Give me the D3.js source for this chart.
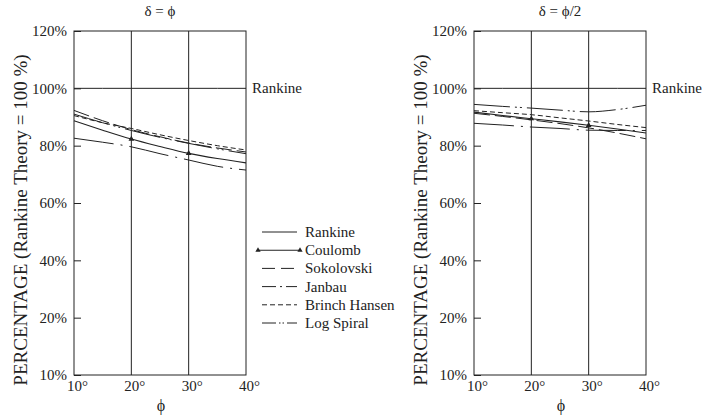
<!DOCTYPE html>
<html>
<head>
<meta charset="utf-8">
<script src="https://cdn.jsdelivr.net/npm/d3@7"></script>
<style>
  body { margin: 0; background: #fff; }
  svg text { font-family: "Liberation Serif", "Times New Roman", serif; fill: #222; }
</style>
</head>
<body>
<div id="chart"></div>
<script>
// data
const phiValues = [10, 15, 20, 25, 30, 35, 40];
const phiTicks = [10, 20, 30, 40];
const yTicks = [0, 20, 40, 60, 80, 100, 120];
const yTickLabels = ['10%', '20%', '40%', '60%', '80%', '100%', '120%'];
const seriesNames = ['Rankine', 'Coulomb', 'Sokolovski', 'Janbau', 'Brinch Hansen', 'Log Spiral'];
const coulombMarkPhi = [20, 30];

// delta = phi
const leftRankine = [100, 100, 100, 100, 100, 100, 100];
const leftCoulomb = [88.7, 85.4, 82.3, 79.7, 77.3, 75.5, 74.0];
const leftSokolovski = [92.3, 88.7, 85.6, 83.1, 80.9, 79.2, 77.8];
const leftJanbau = [82.6, 81.2, 79.6, 77.2, 75.0, 72.8, 71.5];
const leftBrinchHansen = [90.5, 88.0, 86.0, 83.8, 81.8, 80.0, 78.5];
const leftLogSpiral = [91.0, 88.0, 85.3, 82.9, 80.8, 78.9, 77.2];

// delta = phi/2
const rightRankine = [100, 100, 100, 100, 100, 100, 100];
const rightCoulomb = [91.7, 90.5, 89.4, 88.3, 87.1, 85.8, 84.4];
const rightSokolovski = [91.3, 90.2, 89.0, 87.7, 86.2, 84.4, 82.4];
const rightJanbau = [87.8, 87.2, 86.5, 86.0, 85.4, 85.3, 85.3];
const rightBrinchHansen = [92.2, 91.5, 90.8, 89.7, 88.6, 87.4, 86.3];
const rightLogSpiral = [94.4, 93.7, 93.1, 92.4, 91.8, 92.6, 94.1];

const width = 710, height = 415;
const plotTop = 31, plotBottom = 375;
const serif = '"Liberation Serif", "Times New Roman", serif';

const styles = {
  'Rankine': { dash: null, width: 1 },
  'Coulomb': { dash: null, width: 1.1 },
  'Sokolovski': { dash: '16,5', width: 1 },
  'Janbau': { dash: '40,7,2,7', width: 1 },
  'Brinch Hansen': { dash: '5,3', width: 1 },
  'Log Spiral': { dash: '36,5,2,3,2,5', width: 1 }
};

const svg = d3.select('#chart')
  .append('svg')
  .attr('width', width)
  .attr('height', height)
  .attr('font-family', serif);

const y = d3.scaleLinear().domain([0, 120]).range([plotBottom, plotTop]);

function drawPanel(x0, x1, title, data) {
  const x = d3.scaleLinear().domain([10, 40]).range([x0, x1]);
  const g = svg.append('g');

  // frame
  g.append('rect')
    .attr('x', x0).attr('y', plotTop)
    .attr('width', x1 - x0).attr('height', plotBottom - plotTop)
    .attr('fill', 'none').attr('stroke', '#222').attr('stroke-width', 1);

  // vertical lines at 20 and 30
  g.selectAll('.vline')
    .data([20, 30])
    .enter()
    .append('line')
    .attr('x1', d => x(d)).attr('x2', d => x(d))
    .attr('y1', plotTop).attr('y2', plotBottom)
    .attr('stroke', '#222').attr('stroke-width', 1);

  // y axis, ticks pointing inward
  const yAxis = d3.axisLeft(y)
    .tickValues(yTicks)
    .tickSize(-7)
    .tickPadding(9)
    .tickFormat((d, i) => yTickLabels[i]);
  const ya = g.append('g')
    .attr('transform', `translate(${x0},0)`)
    .call(yAxis)
    .attr('font-family', serif)
    .attr('font-size', 15);
  ya.select('.domain').remove();
  ya.selectAll('line').attr('stroke', '#222');
  ya.selectAll('text').attr('dx', 2).attr('fill', '#222');

  // x axis labels
  const xAxis = d3.axisBottom(x)
    .tickValues(phiTicks)
    .tickSize(0)
    .tickPadding(5)
    .tickFormat(d => d + '°');
  const xa = g.append('g')
    .attr('transform', `translate(0,${plotBottom})`)
    .call(xAxis)
    .attr('font-family', serif)
    .attr('font-size', 15);
  xa.select('.domain').remove();
  xa.selectAll('text').attr('dx', 3).attr('fill', '#222');

  // series lines
  const line = d3.line()
    .x((d, i) => x(phiValues[i]))
    .y(d => y(d))
    .curve(d3.curveMonotoneX);

  seriesNames.forEach(name => {
    const st = styles[name];
    g.append('path')
      .datum(data[name])
      .attr('d', line)
      .attr('fill', 'none')
      .attr('stroke', '#222')
      .attr('stroke-width', st.width)
      .attr('stroke-dasharray', st.dash);
  });

  // Coulomb markers
  g.selectAll('.cmark')
    .data(coulombMarkPhi)
    .enter()
    .append('path')
    .attr('d', d3.symbol(d3.symbolTriangle, 14))
    .attr('transform', d => `translate(${x(d)},${y(data['Coulomb'][phiValues.indexOf(d)])})`)
    .attr('fill', '#222');

  // Rankine label
  g.append('text')
    .attr('x', x1 + 6).attr('y', y(100) + 5)
    .attr('font-size', 15)
    .text('Rankine');

  // title
  g.append('text')
    .attr('x', (x0 + x1) / 2).attr('y', 16)
    .attr('text-anchor', 'middle')
    .attr('font-size', 15)
    .text(title);

  // x title
  g.append('text')
    .attr('x', (x0 + x1) / 2 + 1).attr('y', 411)
    .attr('text-anchor', 'middle')
    .attr('font-size', 16)
    .text('ϕ');

  // y title
  g.append('text')
    .attr('transform', `translate(${x0 - 47},${(plotTop + plotBottom) / 2 + 17}) rotate(-90)`)
    .attr('text-anchor', 'middle')
    .attr('font-size', 19)
    .text('PERCENTAGE (Rankine Theory = 100 %)');
}

drawPanel(74, 246, 'δ = ϕ', {
  'Rankine': leftRankine,
  'Coulomb': leftCoulomb,
  'Sokolovski': leftSokolovski,
  'Janbau': leftJanbau,
  'Brinch Hansen': leftBrinchHansen,
  'Log Spiral': leftLogSpiral
});

drawPanel(474, 646, 'δ = ϕ/2', {
  'Rankine': rightRankine,
  'Coulomb': rightCoulomb,
  'Sokolovski': rightSokolovski,
  'Janbau': rightJanbau,
  'Brinch Hansen': rightBrinchHansen,
  'Log Spiral': rightLogSpiral
});

// legend
const legend = svg.append('g').attr('transform', 'translate(262,232)');
const rows = legend.selectAll('.row')
  .data(seriesNames)
  .enter()
  .append('g')
  .attr('transform', (d, i) => `translate(0,${i * 18.2})`);

rows.append('line')
  .attr('x1', d => d === 'Coulomb' ? -4 : 0)
  .attr('x2', d => d === 'Coulomb' ? 38 : 35)
  .attr('y1', 0).attr('y2', 0)
  .attr('stroke', '#222')
  .attr('stroke-width', d => styles[d].width)
  .attr('stroke-dasharray', d => d === 'Janbau' ? '14,4,2,4' : d === 'Log Spiral' ? '14,3,1.5,2,1.5,3' : d === 'Sokolovski' ? '13,6' : styles[d].dash);

legend.selectAll('.lmark')
  .data([-4, 38])
  .enter()
  .append('path')
  .attr('d', d3.symbol(d3.symbolTriangle, 12))
  .attr('transform', d => `translate(${d},${18.2})`)
  .attr('fill', '#222');

rows.append('text')
  .attr('x', 43).attr('y', 5)
  .attr('font-size', 15)
  .text(d => d);
</script>
</body>
</html>
